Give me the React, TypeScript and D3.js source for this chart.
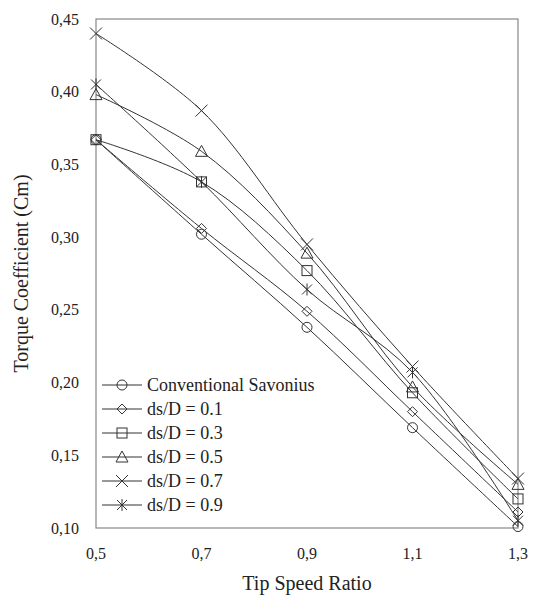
import React from 'react';
import * as d3 from 'd3';

const tsr = [0.5, 0.7, 0.9, 1.1, 1.3];
const conventional = [0.367, 0.302, 0.238, 0.169, 0.101];
const ds01 = [0.367, 0.306, 0.249, 0.18, 0.111];
const ds03 = [0.367, 0.338, 0.277, 0.193, 0.12];
const ds05 = [0.398, 0.359, 0.289, 0.197, 0.13];
const ds07 = [0.44, 0.387, 0.295, 0.211, 0.134];
const ds09 = [0.405, 0.338, 0.264, 0.207, 0.105];
const seriesNames = ['Conventional Savonius', 'ds/D = 0.1', 'ds/D = 0.3', 'ds/D = 0.5', 'ds/D = 0.7', 'ds/D = 0.9'];
const markers = ['circle', 'diamond', 'square', 'triangle', 'cross', 'star'];
const xTicks = [0.5, 0.7, 0.9, 1.1, 1.3];
const yTicks = [0.1, 0.15, 0.2, 0.25, 0.3, 0.35, 0.4, 0.45];

const W = 533;
const H = 599;
const margin = { top: 19, right: 15, bottom: 71, left: 96 };
const ink = '#333';
const font = "'Liberation Serif', 'Times New Roman', Times, 'Noto Serif', 'DejaVu Serif', serif";

const Marker = ({ type, x, y }: { type: string; x: number; y: number }) => {
  const p = { fill: 'none', stroke: ink, strokeWidth: 1 };
  switch (type) {
    case 'circle':
      return <circle cx={x} cy={y} r={5} {...p} />;
    case 'diamond':
      return <path d={`M${x},${y - 5}L${x + 5},${y}L${x},${y + 5}L${x - 5},${y}Z`} {...p} />;
    case 'square':
      return <rect x={x - 5} y={y - 5} width={10} height={10} {...p} />;
    case 'triangle':
      return <path d={`M${x},${y - 6}L${x + 6},${y + 5}L${x - 6},${y + 5}Z`} {...p} />;
    case 'cross':
      return <path d={`M${x - 6},${y - 6}L${x + 6},${y + 6}M${x + 6},${y - 6}L${x - 6},${y + 6}`} {...p} />;
    default:
      return (
        <path
          d={`M${x - 5},${y - 5}L${x + 5},${y + 5}M${x + 5},${y - 5}L${x - 5},${y + 5}M${x},${y - 6}L${x},${y + 6}`}
          {...p}
        />
      );
  }
};

const App = () => {
  const data = [conventional, ds01, ds03, ds05, ds07, ds09];
  const x = d3.scaleLinear().domain([0.5, 1.3]).range([margin.left, W - margin.right]);
  const y = d3.scaleLinear().domain([0.1, 0.45]).range([H - margin.bottom, margin.top]);
  const line = d3
    .line<number>()
    .x((_, i) => x(tsr[i]))
    .y((d) => y(d))
    .curve(d3.curveCatmullRom.alpha(0.5));

  const fmt = (v: number, n: number) => v.toFixed(n).replace('.', ',');

  return (
    <svg width={W} height={H} style={{ position: 'absolute', left: 0, top: 0 }}>
      <rect x={0} y={0} width={W} height={H} fill="#fff" />
      <rect
        x={x(0.5)}
        y={y(0.45)}
        width={x(1.3) - x(0.5)}
        height={y(0.1) - y(0.45)}
        fill="none"
        stroke="#888"
        strokeWidth={1.2}
      />
      <g style={{ fontFamily: font }} fill="#222">
        {yTicks.map((t) => (
          <text key={t} x={x(0.5) - 17} y={y(t)} dy="0.35em" textAnchor="end" fontSize={16}>
            {fmt(t, 2)}
          </text>
        ))}
        {xTicks.map((t) => (
          <text key={t} x={x(t)} y={y(0.1) + 25} dy="0.35em" textAnchor="middle" fontSize={16}>
            {fmt(t, 1)}
          </text>
        ))}
        <text x={x(0.9)} y={590} textAnchor="middle" fontSize={20}>
          Tip Speed Ratio
        </text>
        <text transform={`translate(28,${y(0.275)}) rotate(-90)`} textAnchor="middle" fontSize={20}>
          Torque Coefficient (Cm)
        </text>
      </g>
      {data.map((s, i) => (
        <g key={seriesNames[i]}>
          <path d={line(s) ?? ''} fill="none" stroke={ink} strokeWidth={1} />
          {s.map((v, j) => (
            <Marker key={j} type={markers[i]} x={x(tsr[j])} y={y(v)} />
          ))}
        </g>
      ))}
      <g transform="translate(102,385)">
        {seriesNames.map((n, i) => (
          <g key={n} transform={`translate(0,${i * 24})`}>
            <line x1={0} x2={40} y1={0} y2={0} stroke={ink} />
            <Marker type={markers[i]} x={20} y={0} />
            <text x={45} y={0} dy="0.35em" fontSize={18} fill="#222" style={{ fontFamily: font }}>
              {n}
            </text>
          </g>
        ))}
      </g>
    </svg>
  );
};

export default App;
